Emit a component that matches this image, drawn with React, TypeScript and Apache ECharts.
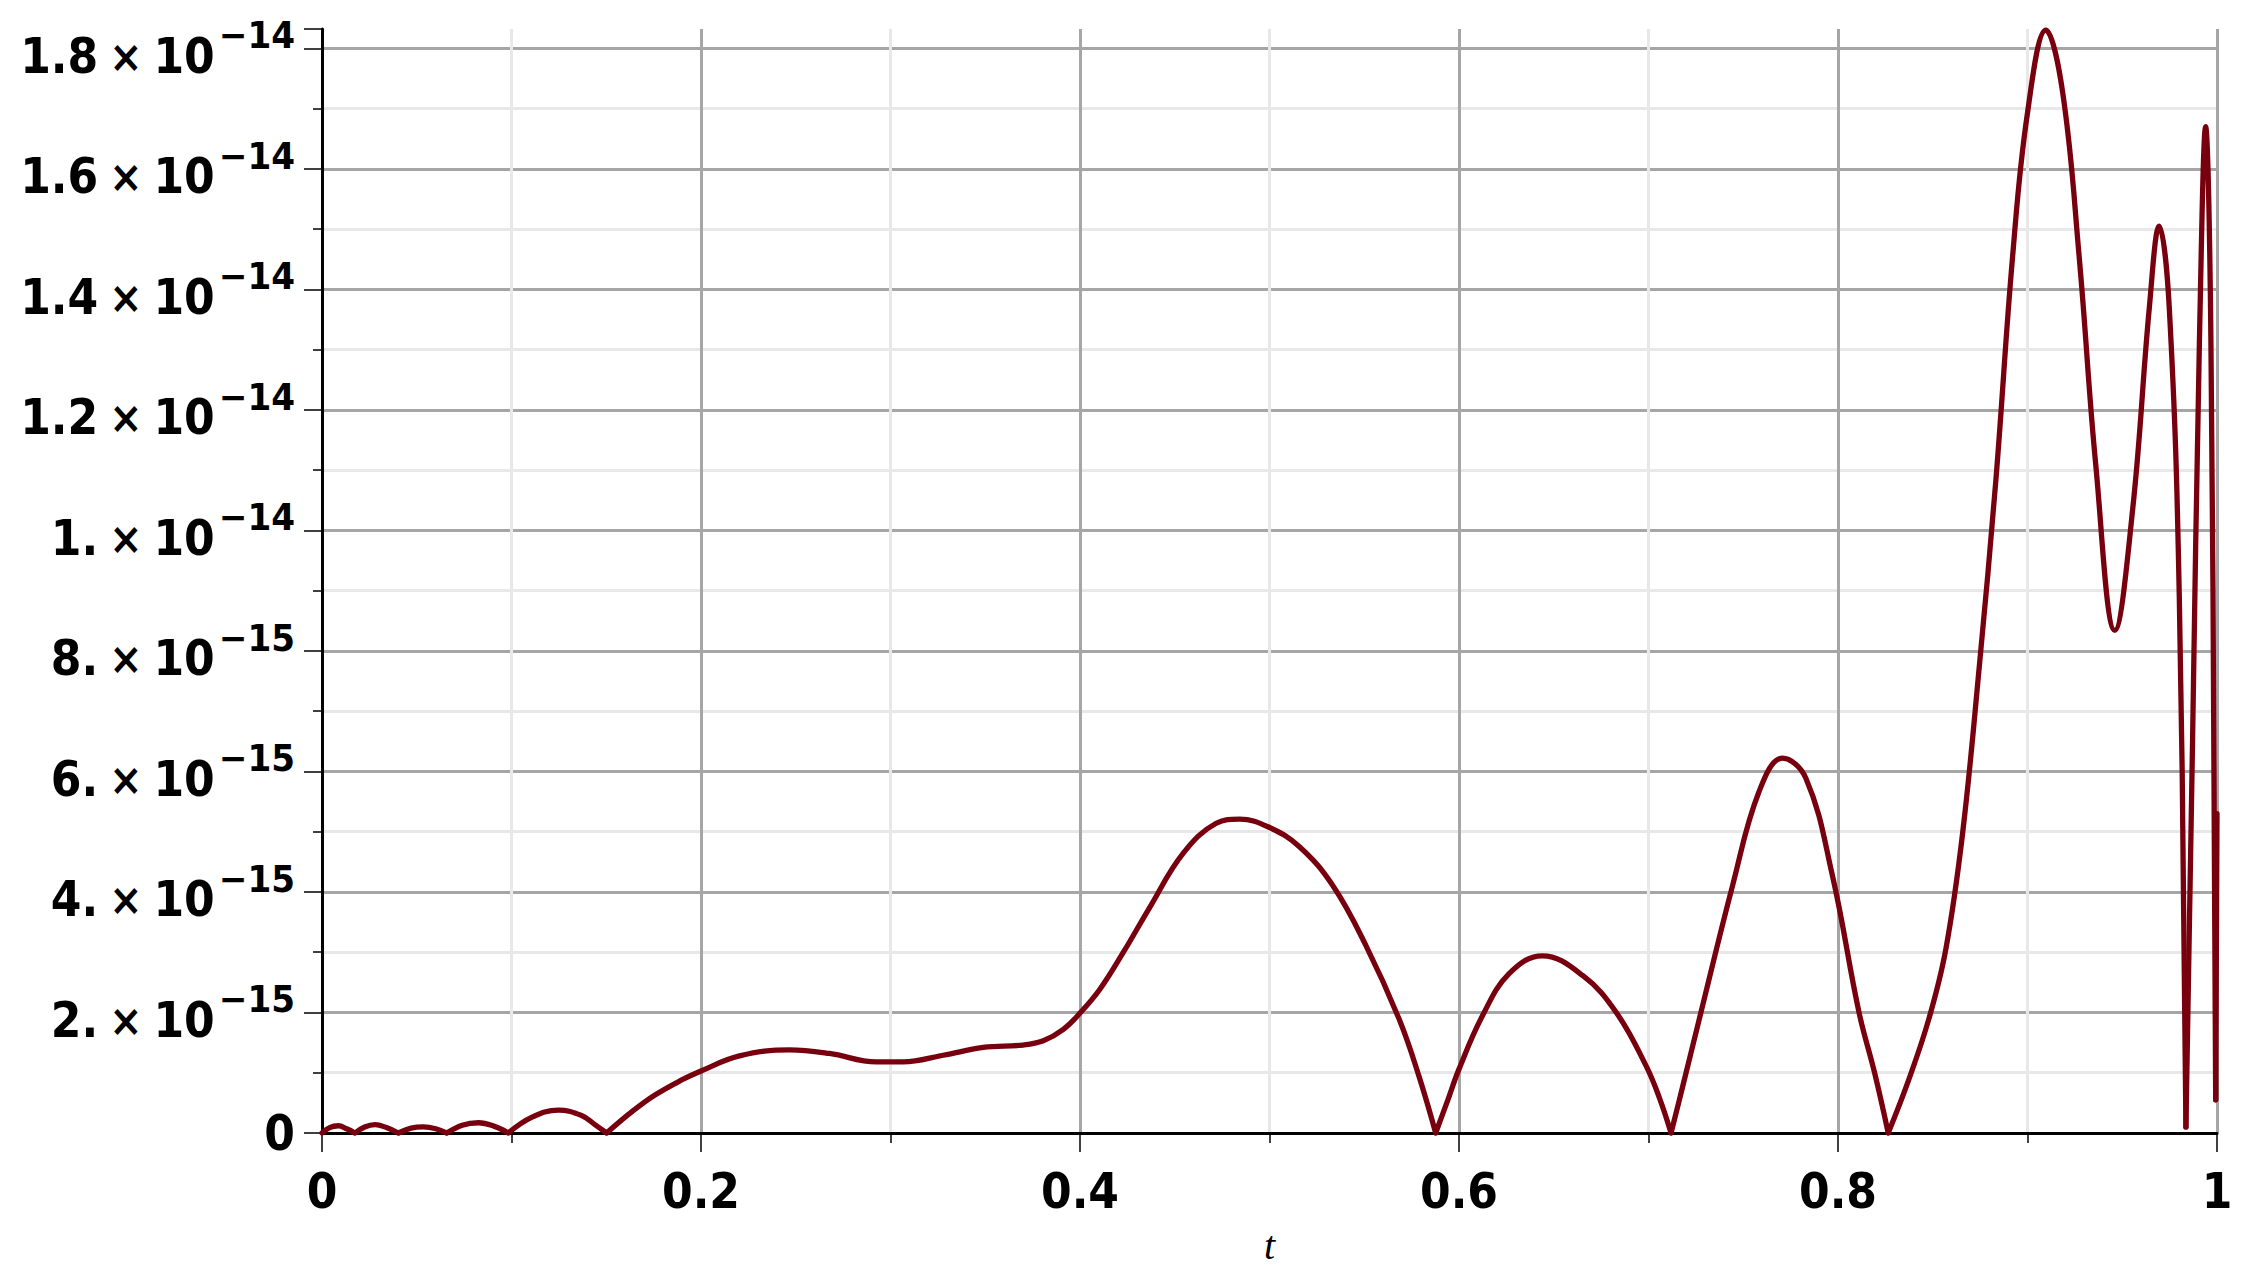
import React, { useEffect, useRef } from "react";
import * as echarts from "echarts";

// t values (x) and |error| values in units of 1e-15 (y)
const tValues = [
  0.0, 0.004, 0.0086, 0.013, 0.0174, 0.0225, 0.028, 0.034, 0.0403, 0.047,
  0.0535, 0.06, 0.0658, 0.074, 0.0826, 0.091, 0.0983, 0.1106, 0.1247, 0.137,
  0.144, 0.1502, 0.1634, 0.1757, 0.1898, 0.2, 0.2203, 0.2467, 0.2678, 0.2925,
  0.3066, 0.3278, 0.3489, 0.37, 0.3806, 0.3912, 0.4, 0.4106, 0.4229, 0.4369,
  0.4544, 0.4719, 0.4842, 0.5, 0.5158, 0.5333, 0.5509, 0.5684, 0.5789, 0.5877,
  0.5939, 0.6, 0.6123, 0.6263, 0.6439, 0.6654, 0.683, 0.6988, 0.7058, 0.7119,
  0.7181, 0.7268, 0.7444, 0.7584, 0.7707, 0.783, 0.797, 0.8111, 0.8193, 0.8265,
  0.8375, 0.8481, 0.8569, 0.8657, 0.8745, 0.8833, 0.8921, 0.9, 0.9097, 0.9185,
  0.9273, 0.9361, 0.9461, 0.9555, 0.9643, 0.9695, 0.9748, 0.9801, 0.9836, 0.9871,
  0.9907, 0.994, 0.9968, 0.9993, 1.0,
];

const errE15 = [
  0.0, 0.09, 0.12, 0.07, 0.0, 0.1, 0.14, 0.09, 0.0, 0.08,
  0.1, 0.07, 0.0, 0.13, 0.17, 0.11, 0.0, 0.26, 0.38, 0.29,
  0.14, 0.0, 0.35, 0.63, 0.88, 1.03, 1.28, 1.38, 1.32, 1.18,
  1.18, 1.29, 1.42, 1.46, 1.53, 1.72, 1.99, 2.39, 3.0, 3.75,
  4.64, 5.14, 5.21, 5.07, 4.75, 4.11, 3.11, 1.89, 0.94, 0.0,
  0.53, 1.06, 1.94, 2.64, 2.94, 2.61, 2.0, 1.11, 0.58, 0.0,
  0.78, 1.89, 4.11, 5.67, 6.22, 5.89, 4.28, 2.0, 1.0, 0.0,
  0.9, 1.91, 3.05, 4.96, 7.72, 10.83, 14.53, 16.93, 18.3, 17.28,
  14.53, 11.06, 8.34, 10.35, 13.7, 15.05, 13.7, 8.9, 0.1, 6.5,
  13.1, 16.7, 13.1, 0.55, 5.3,
];

// tick labels
const xTickLabels = ["0", "0.2", "0.4", "0.6", "0.8", "1"];
const yTickMantissas = ["0", "2.", "4.", "6.", "8.", "1.", "1.2", "1.4", "1.6", "1.8"];
const yTickExponents = ["", "−15", "−15", "−15", "−15", "−14", "−14", "−14", "−14", "−14"];

const Y_UNIT = 1e-15;
const Y_STEP = 2e-15;
const Y_MAX = 18.32e-15;
const X_STEP = 0.2;

const LABEL_FONT = "'DejaVu Sans Condensed', 'DejaVu Sans', sans-serif";
const LINE_COLOR = "#78000e";

// split the curve at its sharp (cusp) minima so each arch is smoothed on its own
function buildSegments(): number[][][] {
  const pts = tValues.map((t, i) => [t, errE15[i] * Y_UNIT]);
  const cuts: number[] = [0];
  for (let i = 1; i < errE15.length - 1; i++) {
    if (errE15[i] < 1 && errE15[i] <= errE15[i - 1] && errE15[i] <= errE15[i + 1]) cuts.push(i);
  }
  cuts.push(errE15.length - 1);
  const segs: number[][][] = [];
  for (let c = 0; c < cuts.length - 1; c++) {
    segs.push(pts.slice(cuts[c], cuts[c + 1] + 1));
  }
  return segs;
}

export default function App() {
  const ref = useRef<HTMLDivElement>(null);

  useEffect(() => {
    if (!ref.current) return;
    const chart = echarts.init(ref.current, null, { renderer: "svg" });
    const segments = buildSegments();

    chart.setOption({
      animation: false,
      backgroundColor: "#ffffff",
      grid: { left: 322, right: 32, top: 29, bottom: 152, containLabel: false },
      xAxis: {
        type: "value",
        min: 0,
        max: 1,
        interval: X_STEP,
        name: "t",
        nameLocation: "middle",
        nameGap: 92,
        nameTextStyle: {
          fontFamily: "'Liberation Serif', serif",
          fontStyle: "italic",
          fontSize: 40,
          color: "#000",
        },
        axisLine: { show: true, onZero: false, lineStyle: { color: "#000", width: 3 } },
        axisTick: { show: true, length: 19, lineStyle: { color: "#000", width: 1.5 } },
        minorTick: { show: true, splitNumber: 2, length: 10, lineStyle: { color: "#000", width: 1.5 } },
        axisLabel: {
          margin: 34,
          fontFamily: LABEL_FONT,
          fontWeight: "bold",
          fontSize: 49,
          color: "#000",
          formatter: (v: number) => {
            const k = Math.round(v / X_STEP);
            return xTickLabels[k] ?? "";
          },
        },
        splitLine: { show: true, showMinLine: false, lineStyle: { color: "#a6a6a6", width: 3 } },
        minorSplitLine: { show: true, lineStyle: { color: "#e8e8e8", width: 3 } },
      },
      yAxis: {
        type: "value",
        min: 0,
        max: Y_MAX,
        interval: Y_STEP,
        axisLine: { show: true, onZero: false, lineStyle: { color: "#000", width: 3 } },
        axisTick: { show: true, length: 18, lineStyle: { color: "#000", width: 1.5 } },
        minorTick: { show: true, splitNumber: 2, length: 9, lineStyle: { color: "#000", width: 1.5 } },
        axisLabel: {
          margin: 27,
          showMaxLabel: false,
          color: "#000",
          fontFamily: LABEL_FONT,
          fontWeight: "bold",
          fontSize: 49,
          formatter: (v: number) => {
            const k = Math.round(v / Y_STEP);
            if (Math.abs(v - k * Y_STEP) > 1e-17 || k >= yTickMantissas.length) return "";
            if (k === 0) return "{z|0}";
            return `{m|${yTickMantissas[k]}}{x|×}{m|10}{s|${yTickExponents[k]}}`;
          },
          rich: {
            z: { fontFamily: LABEL_FONT, fontWeight: "bold", fontSize: 49, color: "#000" },
            m: { fontFamily: LABEL_FONT, fontWeight: "bold", fontSize: 49, color: "#000", padding: [16, 0, 0, 0] },
            x: { fontFamily: LABEL_FONT, fontWeight: "bold", fontSize: 44, color: "#000", padding: [16, 11, 0, 11] },
            s: { fontFamily: LABEL_FONT, fontWeight: "bold", fontSize: 38, color: "#000", padding: [0, 0, 26, 4] },
          },
        },
        splitLine: { show: true, showMinLine: false, showMaxLine: false, lineStyle: { color: "#a6a6a6", width: 3 } },
        minorSplitLine: { show: true, lineStyle: { color: "#e8e8e8", width: 3 } },
      },
      series: segments.map((seg, i) => ({
        type: "line",
        name: "err" + i,
        data: seg,
        symbol: "none",
        showSymbol: false,
        smooth: 0.4,
        clip: true,
        lineStyle: { color: LINE_COLOR, width: 5.3, join: "round", cap: "round" },
      })),
    });

    return () => chart.dispose();
  }, []);

  return (
    <div
      ref={ref}
      style={{ position: "absolute", left: 0, top: 0, width: 2249, height: 1285 }}
    />
  );
}
